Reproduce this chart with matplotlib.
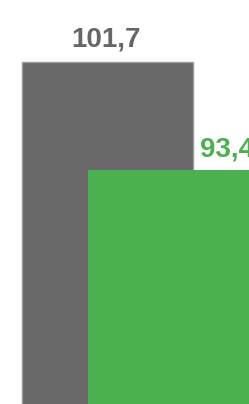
import matplotlib
matplotlib.use("Agg")
from matplotlib import pyplot as plt

# data
labels = ["101,7", "93,4"]
values = [101.7, 93.4]
colors = ["#696969", "#4caf50"]
text_colors = ["#666666", "#4caf50"]
positions = [0, 1]

plt.rcParams['font.family'] = ['Liberation Sans', 'DejaVu Sans']

fig = plt.figure(figsize=(2.49, 4.04), dpi=100)
ax = fig.add_axes([0, 0, 1, 1])

width = 2.586
bars = ax.bar(positions, values, width=width, color=colors, align='center')
bars[0].set_edgecolor('#9a9a9a')
bars[0].set_linewidth(1.0)
bars[0].set_zorder(1)
bars[1].set_zorder(2)

ax.set_xlim(-1.617, 2.128)
ax.set_ylim(75.4, 106.5)

# value labels
ax.text(positions[0] - 0.03, values[0] + 1.23, labels[0], ha='center', va='baseline',
        fontsize=20, fontweight='bold', color=text_colors[0])
ax.text(positions[1] + 0.39, values[1] + 1.02, labels[1], ha='left', va='baseline',
        fontsize=20, fontweight='bold', color=text_colors[1])

ax.axis('off')
fig.savefig("out.png", dpi=100)
